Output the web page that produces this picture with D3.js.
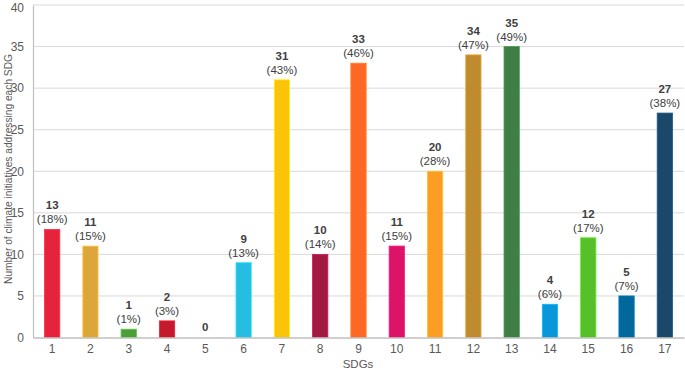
<!DOCTYPE html>
<html><head><meta charset="utf-8">
<script src="https://cdn.jsdelivr.net/npm/d3@7"></script>
<style>body{margin:0;background:#fff}svg{font-family:"Liberation Sans",Arial,sans-serif}</style>
</head><body><svg id="c" width="685" height="370"></svg>
<script>
const categories = ["1","2","3","4","5","6","7","8","9","10","11","12","13","14","15","16","17"];
const values = [13,11,1,2,0,9,31,10,33,11,20,34,35,4,12,5,27];
const percents = ["18%","15%","1%","3%","","13%","43%","14%","46%","15%","28%","47%","49%","6%","17%","7%","38%"];
const colors = ["#E5243B","#DDA63A","#4C9F38","#C5192D","#FF3A21","#26BDE2","#FCC30B","#A21942","#FD6925","#DD1367","#FD9D24","#BF8B2E","#3F7E44","#0A97D9","#56C02B","#00689D","#19486A"];
const yTicks = [0,5,10,15,20,25,30,35,40];

const svg = d3.select("#c");
const m = {l:33, r:684, t:5, b:337.5};
const x = d3.scaleBand().domain(categories).range([m.l, m.r]).paddingInner(0.6).paddingOuter(0.3);
const y = d3.scaleLinear().domain([0,40]).range([m.b, m.t]);

// gridlines
svg.append("g").selectAll("line").data(yTicks.filter(d=>d>0)).join("line")
  .attr("x1", m.l).attr("x2", m.r).attr("y1", d=>y(d)).attr("y2", d=>y(d))
  .attr("stroke","#d9d9d9").attr("stroke-width",1);

// y axis
const ya = svg.append("g").attr("transform",`translate(${m.l},0)`)
  .call(d3.axisLeft(y).tickValues(yTicks).tickSize(0).tickPadding(9));
ya.select(".domain").attr("stroke","#bfbfbf").attr("stroke-width",1.2);
ya.selectAll("text").attr("fill","#595959").style("font-size","12px").style("font-family","Liberation Sans, Arial, sans-serif");
ya.selectAll(".tick").filter(d=>d===40).select("text").attr("dy","0.5em");

// bars
svg.append("g").selectAll("rect").data(values).join("rect")
  .attr("x",(d,i)=>x(categories[i])).attr("width",x.bandwidth())
  .attr("y",d=>y(d)).attr("height",d=>y(0)-y(d))
  .attr("fill",(d,i)=>colors[i])
  .attr("stroke",(d,i)=>d3.color(colors[i]).brighter(0.6)).attr("stroke-width",0.8);

// x axis
const xa = svg.append("g").attr("transform",`translate(0,${m.b})`)
  .call(d3.axisBottom(x).tickSize(0).tickPadding(7));
xa.select(".domain").attr("stroke","#bfbfbf").attr("stroke-width",1.5);
xa.selectAll("text").attr("fill","#595959").style("font-size","12px").style("font-family","Liberation Sans, Arial, sans-serif");

// labels
const lab = svg.append("g").selectAll("g").data(values).join("g")
  .attr("transform",(d,i)=>`translate(${x(categories[i])+x.bandwidth()/2},${y(d)})`);
lab.append("text").attr("text-anchor","middle")
  .attr("y",(d,i)=>percents[i]? -20 : -7)
  .attr("fill","#404040").style("font-size","11.5px").style("font-weight","bold")
  .text(d=>d);
lab.append("text").attr("text-anchor","middle").attr("y",-6)
  .attr("fill","#404040").style("font-size","11.5px")
  .text((d,i)=>percents[i]? `(${percents[i]})` : "");

// axis titles
svg.append("text").attr("x",358).attr("y",368).attr("text-anchor","middle")
  .attr("fill","#595959").style("font-size","11.5px").text("SDGs");
svg.append("text").attr("transform",`translate(12,169) rotate(-90)`).attr("text-anchor","middle")
  .attr("fill","#595959").style("font-size","10.2px")
  .text("Number of climate initiatives addressing each SDG");
</script></body></html>
